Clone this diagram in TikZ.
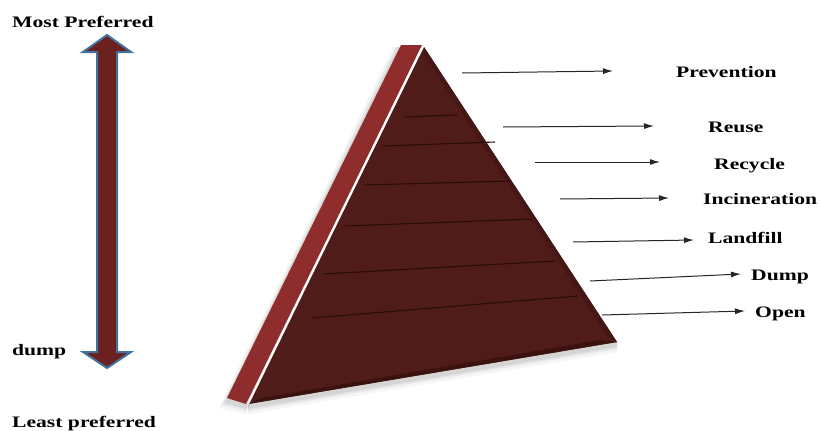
\documentclass[tikz,border=0pt]{standalone}
\usepackage{fontspec}
\setmainfont{Liberation Serif}
\usetikzlibrary{arrows.meta}
\definecolor{faceC}{HTML}{501C1A}
\definecolor{faceDark}{HTML}{3A1210}
\definecolor{stripC}{HTML}{8E2D2B}
\definecolor{lineC}{HTML}{2A0B0A}
\definecolor{arrFill}{HTML}{6B2120}
\definecolor{arrBorder}{HTML}{41719C}
\newcommand{\widetxt}[1]{\scalebox{1.35}[1.0]{#1}}
\tikzset{
  lbl/.style={anchor=west, inner sep=0pt, text height=10.6pt, text depth=0pt,
              font=\fontsize{16}{16}\selectfont\bfseries},
  ptr/.style={-{Latex[length=10pt,width=6pt]}, line width=1pt, draw=black!85},
  tier/.style={draw=lineC, line width=1.1pt},
}
\begin{document}
\begin{tikzpicture}[x=1pt,y=-1pt]
\useasboundingbox (0,0) rectangle (820,431);
% double arrow
\draw[fill=arrFill, draw=arrBorder, line width=2pt, line join=miter]
  (107,35) -- (131,52) -- (117,52) -- (117,352) -- (131,352) -- (107,368)
  -- (83,352) -- (97,352) -- (97,52) -- (83,52) -- cycle;
% side labels
\node[lbl] (most) at (12,22) {\widetxt{Most Preferred}};
\node[lbl] (dumpl) at (12,350) {\widetxt{dump}};
\node[lbl] (least) at (12,422) {\widetxt{Least preferred}};
% shadow of pyramid
\foreach \o/\a in {8/0.04,5/0.06,3/0.08}{
  \fill[black, opacity=\a] (401-\o,47) -- (421,47) -- (246,406+\o) -- (227-\o,400+\o) -- cycle;
  \fill[black, opacity=\a] (248,406+\o) -- (617,344+\o) -- (617,342) -- (248,402) -- cycle;
}
% strip
\fill[stripC] (401,45) -- (422,45) -- (246,404) -- (227,398) -- cycle;
% face
\fill[faceC] (424,47) -- (617,342) -- (248,404) -- cycle;
\fill[faceDark] (248,404) -- (617,342) -- (600,340) -- (262,398) -- cycle;
\fill[faceDark!50!faceC] (424,47) -- (617,342) -- (609,339) -- (424,55) -- cycle;
% white edge line
\draw[white, line width=2pt] (423,46) -- (248,404);
% tier lines
\draw[tier] (405,117) -- (457,115);
\draw[tier] (383,146) -- (495,142);
\draw[tier] (364,185) -- (510,181);
\draw[tier] (345,226) -- (532,219);
\draw[tier] (323,274) -- (555,261);
\draw[tier] (312,318) -- (578,296);
% arrow coordinates
\coordinate (s1) at (462,73);  \coordinate (e1) at (613,71);
\coordinate (s2) at (503,127); \coordinate (e2) at (654,126);
\coordinate (s3) at (535,162); \coordinate (e3) at (660,162);
\coordinate (s4) at (560,199); \coordinate (e4) at (669,198);
\coordinate (s5) at (573,242); \coordinate (e5) at (694,240);
\coordinate (s6) at (590,281); \coordinate (e6) at (741,274);
\coordinate (s7) at (602,315); \coordinate (e7) at (745,311);
\foreach \i in {1,...,7}{\draw[ptr] (s\i) -- (e\i);}
% labels
\node[lbl] (prev) at (676,72) {\widetxt{Prevention}};
\node[lbl] (reuse) at (708,127) {\widetxt{Reuse}};
\node[lbl] (recy) at (714,164) {\widetxt{Recycle}};
\node[lbl] (inci) at (703,199) {\widetxt{Incineration}};
\node[lbl] (land) at (708,238) {\widetxt{Landfill}};
\node[lbl] (dump) at (751,275) {\widetxt{Dump}};
\node[lbl] (open) at (755,312) {\widetxt{Open}};
\end{tikzpicture}
\end{document}
